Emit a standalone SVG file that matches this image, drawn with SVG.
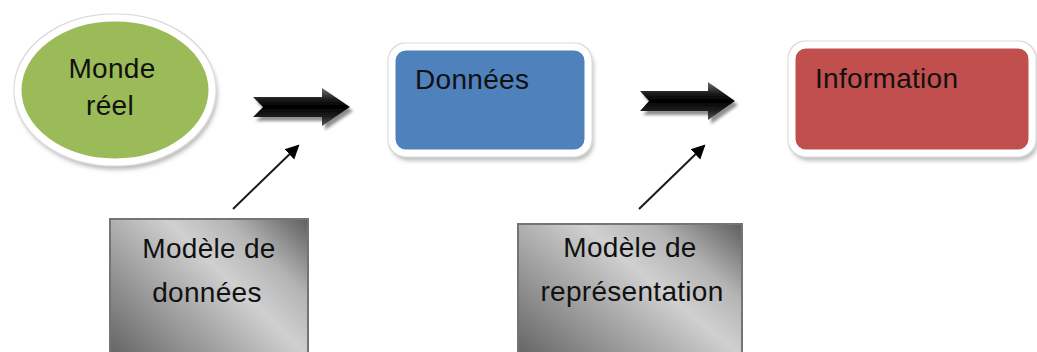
<svg xmlns="http://www.w3.org/2000/svg" width="1037" height="352" viewBox="0 0 1037 352">
  <style>
    .lbl { font-family: "Liberation Sans", Arial, sans-serif; font-size: 28px; fill: #111; letter-spacing: 0.3px; }
    .mid { text-anchor: middle; }
    .frame { stroke: #ffffff; stroke-width: 7; filter: url(#soft); }
    .model { fill: url(#greyShade); stroke: #747474; stroke-width: 2; }
    .bigArrow { fill: url(#arrowShade); filter: url(#arrowDrop); }
    .pointer { stroke: #1a1a1a; stroke-width: 2; fill: none; marker-end: url(#tip); }
  </style>
  <defs>
    <filter id="soft" x="-10%" y="-10%" width="125%" height="130%">
      <feGaussianBlur in="SourceAlpha" stdDeviation="2"/>
      <feOffset dx="2" dy="4" result="b"/>
      <feFlood flood-color="#7f7f7f" flood-opacity="0.55"/>
      <feComposite in2="b" operator="in" result="s"/>
      <feMorphology in="SourceAlpha" operator="dilate" radius="1" result="edge0"/>
      <feFlood flood-color="#d9d9d9"/>
      <feComposite in2="edge0" operator="in" result="edge"/>
      <feMerge>
        <feMergeNode in="s"/>
        <feMergeNode in="edge"/>
        <feMergeNode in="SourceGraphic"/>
      </feMerge>
    </filter>
    <filter id="arrowDrop" x="-10%" y="-20%" width="130%" height="160%">
      <feGaussianBlur in="SourceAlpha" stdDeviation="1.5"/>
      <feOffset dx="3" dy="4" result="b"/>
      <feFlood flood-color="#6a6a6a" flood-opacity="0.75"/>
      <feComposite in2="b" operator="in" result="s"/>
      <feMerge>
        <feMergeNode in="s"/>
        <feMergeNode in="SourceGraphic"/>
      </feMerge>
    </filter>
    <linearGradient id="arrowShade" x1="0" y1="0" x2="0" y2="1">
      <stop offset="0" stop-color="#707070"/>
      <stop offset="0.3" stop-color="#1c1c1c"/>
      <stop offset="0.5" stop-color="#000000"/>
      <stop offset="0.75" stop-color="#1e1e1e"/>
      <stop offset="1" stop-color="#555555"/>
    </linearGradient>
    <!-- diagonal sheen: dark lower-left and upper-right corners, light band between -->
    <linearGradient id="greyShade" x1="-0.47" y1="0.33" x2="0.67" y2="-0.47">
      <stop offset="0" stop-color="#656565"/>
      <stop offset="0.2" stop-color="#8a8a8a"/>
      <stop offset="0.41" stop-color="#b0b0b0"/>
      <stop offset="0.58" stop-color="#d0d0d0"/>
      <stop offset="0.76" stop-color="#b4b4b4"/>
      <stop offset="1" stop-color="#5e5e5e"/>
    </linearGradient>
    <marker id="tip" markerWidth="8" markerHeight="8" refX="6" refY="4" orient="auto" markerUnits="strokeWidth">
      <path d="M0,0.5 L7,4 L0,7.5 Z" fill="#000"/>
    </marker>
  </defs>

  <g id="monde-reel">
    <ellipse class="frame" cx="115" cy="90" rx="97" ry="72" fill="#9bbb59"/>
    <text class="lbl mid" x="112" y="78">Monde</text>
    <text class="lbl mid" x="110" y="115">réel</text>
  </g>

  <g id="donnees">
    <rect class="frame" x="392" y="47" width="196" height="106" rx="14" fill="#4f81bd"/>
    <text class="lbl" x="415" y="89">Données</text>
  </g>

  <g id="information">
    <rect class="frame" x="792" y="45" width="240" height="108" rx="14" fill="#c0504d"/>
    <text class="lbl" x="815" y="88">Information</text>
  </g>

  <g id="modele-donnees">
    <rect class="model" x="110" y="219" width="198" height="135"/>
    <text class="lbl mid" x="209" y="258">Modèle de</text>
    <text class="lbl mid" x="207" y="302">données</text>
  </g>

  <g id="modele-representation">
    <rect class="model" x="518" y="224" width="224" height="130"/>
    <text class="lbl mid" x="630" y="257">Modèle de</text>
    <text class="lbl mid" x="632" y="301">représentation</text>
  </g>

  <g id="connectors">
    <path class="bigArrow" d="M253,97 L322,97 L322,88 L350,107 L322,126 L322,117 L253,117 L263,107 Z"/>
    <path class="bigArrow" d="M640,91 L708,91 L708,82 L735,101 L708,120 L708,111 L640,111 L649,101 Z"/>
    <line class="pointer" x1="233" y1="209" x2="298" y2="146"/>
    <line class="pointer" x1="639" y1="209" x2="704" y2="146"/>
  </g>
</svg>
